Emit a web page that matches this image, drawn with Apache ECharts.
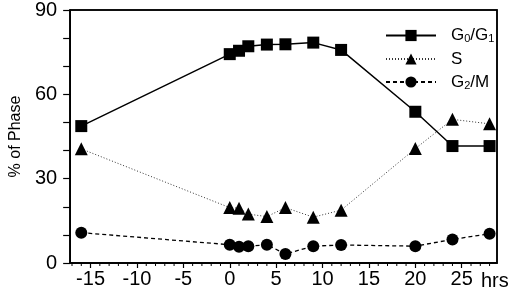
<!DOCTYPE html>
<html>
<head>
<meta charset="utf-8">
<script src="https://cdn.jsdelivr.net/npm/echarts@6/dist/echarts.min.js"></script>
<style>
  html,body{margin:0;padding:0;background:#fff;}
  #chart{width:520px;height:294px;}
</style>
</head>
<body>
<div id="chart"></div>
<script>
// time after release (hrs) and % of cells in each phase
var hours = [-16, 0, 1, 2, 4, 6, 9, 12, 20, 24, 28];
var g0g1 = [48.7, 74.3, 75.5, 77.1, 77.7, 77.8, 78.4, 75.8, 53.8, 41.6, 41.6];
var sPhase = [40.6, 19.7, 19.5, 17.4, 16.5, 19.7, 16.3, 18.8, 40.7, 51.1, 49.5];
var g2m = [10.8, 6.5, 5.8, 6.0, 6.5, 3.2, 6.0, 6.4, 6.0, 8.4, 10.4];
var seriesNames = ['G0/G1', 'S', 'G2/M'];
var legendLabels = {'G0/G1': 'G{sub|0}/G{sub|1}', 'S': 'S', 'G2/M': 'G{sub|2}/M'};

function pairs(ys){
  var out = [];
  for (var i = 0; i < hours.length; i++) out.push([hours[i], ys[i]]);
  return out;
}

var chart = echarts.init(document.getElementById('chart'));
var font = 'Liberation Sans, Arial, sans-serif';
var xMin = -17.2, xMax = 28.8, yMin = 0, yMax = 90;
var axisLineStyle = {color: '#000', width: 1.5};

var option = {
  animation: false,
  grid: {left: 67, right: 23, top: 10, bottom: 31, show: true, borderColor: '#000', borderWidth: 1.5},
  legend: {
    orient: 'vertical',
    left: 380, top: 22,
    itemWidth: 50, itemHeight: 14, itemGap: 6,
    data: seriesNames,
    formatter: function(name){ return legendLabels[name]; },
    textStyle: {
      fontFamily: font, fontSize: 17, color: '#000', padding: [0, 0, 0, 10],
      rich: {
        sub: {fontFamily: font, fontSize: 11, color: '#000', padding: [7, 0, 0, 0]}
      }
    }
  },
  xAxis: {
    type: 'value',
    min: xMin, max: xMax,
    splitNumber: 9,
    splitLine: {show: false},
    axisLine: {show: true, onZero: false, lineStyle: axisLineStyle},
    axisTick: {show: true, length: 5, lineStyle: {color: '#000', width: 1.2}},
    axisLabel: {
      color: '#000', fontFamily: font, fontSize: 20, margin: 6,
      showMinLabel: false, showMaxLabel: false
    }
  },
  yAxis: {
    type: 'value',
    min: yMin, max: yMax, interval: 10,
    name: '% of Phase',
    nameLocation: 'middle',
    nameGap: 46,
    nameTextStyle: {color: '#000', fontFamily: font, fontSize: 16},
    splitLine: {show: false},
    axisLine: {show: true, onZero: false, lineStyle: axisLineStyle},
    axisTick: {show: true, length: 7, lineStyle: {color: '#000', width: 1.2}},
    axisLabel: {
      color: '#000', fontFamily: font, fontSize: 20, margin: 13,
      formatter: function(v){ return v % 30 === 0 ? String(v) : ''; }
    }
  },
  graphic: [{
    id: 'hrs',
    type: 'text',
    left: 481, top: 271,
    style: {text: 'hrs', fill: '#000', font: '20px Liberation Sans, Arial, sans-serif'}
  }],
  series: [{
    name: 'G0/G1',
    type: 'line',
    data: pairs(g0g1),
    symbol: 'rect', symbolSize: 12,
    itemStyle: {color: '#000'},
    lineStyle: {color: '#000', width: 1.5, type: 'solid'}
  }, {
    name: 'S',
    type: 'line',
    data: pairs(sPhase),
    symbol: 'triangle', symbolSize: 13,
    itemStyle: {color: '#000'},
    lineStyle: {color: '#333', width: 1, type: [1, 2]}
  }, {
    name: 'G2/M',
    type: 'line',
    data: pairs(g2m),
    symbol: 'circle', symbolSize: 12,
    itemStyle: {color: '#000'},
    lineStyle: {color: '#000', width: 1.3, type: [4, 3]}
  }]
};
chart.setOption(option);

// frame and one-hour ticks, placed through the chart's own scales
var topLeft = chart.convertToPixel({gridIndex: 0}, [xMin, yMax]);
var bottomRight = chart.convertToPixel({gridIndex: 0}, [xMax, yMin]);
var extras = [{
  id: 'frame',
  type: 'rect',
  z: 5,
  silent: true,
  shape: {
    x: topLeft[0], y: topLeft[1],
    width: bottomRight[0] - topLeft[0], height: bottomRight[1] - topLeft[1]
  },
  style: {fill: 'none', stroke: '#000', lineWidth: 1.5}
}];
for (var h = Math.ceil(xMin); h <= Math.floor(xMax); h++) {
  if (h % 5 === 0) continue;
  var px = chart.convertToPixel({gridIndex: 0}, [h, yMin]);
  extras.push({
    id: 'tick' + h,
    type: 'line',
    z: 5,
    silent: true,
    shape: {x1: px[0], y1: px[1], x2: px[0], y2: px[1] + 3},
    style: {stroke: '#000', lineWidth: 1}
  });
}
chart.setOption({graphic: extras});
</script>
</body>
</html>
